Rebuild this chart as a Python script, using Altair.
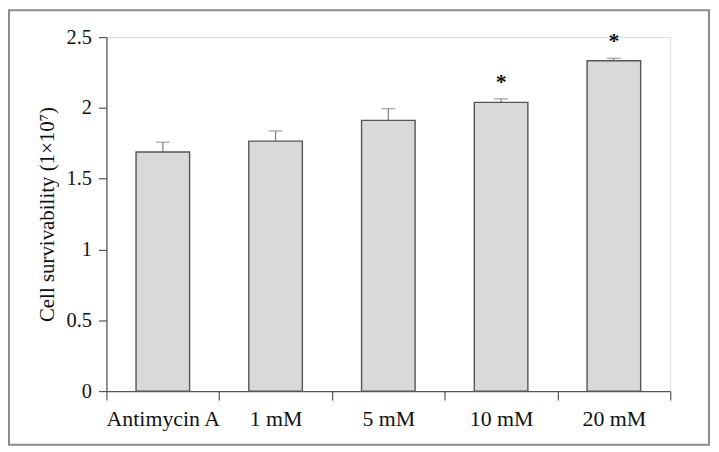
import altair as alt
import pandas as pd

categories = ["Antimycin A", "1 mM", "5 mM", "10 mM", "20 mM"]
means = [1.688, 1.765, 1.912, 2.039, 2.333]
uppers = [1.758, 1.837, 1.994, 2.064, 2.350]
stars = ["", "", "", "*", "*"]
y_ticks = [0, 0.5, 1, 1.5, 2, 2.5]

df = pd.DataFrame({"cat": categories, "mean": means, "upper": uppers, "star": stars})

FONT = "Liberation Serif"
W, H = 567, 356

xenc = alt.X(
    "cat:N",
    sort=categories,
    scale=alt.Scale(paddingInner=0, paddingOuter=0),
    axis=alt.Axis(
        title=None, labelAngle=0, tickBand="extent", tickSize=9,
        labelPadding=9, labelFontSize=22, labelFont=FONT, labelColor="#111",
        domainColor="#555", tickColor="#555", domainWidth=1.2, tickWidth=1.2,
    ),
)
yscale = alt.Scale(domain=[0, 2.5], nice=False)

base = alt.Chart(df)

err_rule = base.mark_rule(color="#8a8a8a", strokeWidth=1.3).encode(
    x=xenc, y=alt.Y("mean:Q", scale=yscale), y2="upper:Q"
)
err_cap = base.mark_tick(color="#8a8a8a", thickness=1.4, size=14).encode(
    x=xenc, y=alt.Y("upper:Q", scale=yscale)
)
bars = base.mark_bar(
    width=alt.RelativeBandSize(0.475), fill="#d9d9d9", stroke="#555555", strokeWidth=1.4
).encode(
    x=xenc,
    y=alt.Y(
        "mean:Q",
        scale=yscale,
        axis=alt.Axis(
            title="Cell survivability (1×10⁷)", values=y_ticks, format="~g",
            grid=False, tickSize=8, labelPadding=7, labelFontSize=20.5, labelFont=FONT,
            labelColor="#111", titleFont=FONT, titleFontSize=21, titleFontWeight="normal",
            titleColor="#111", titlePadding=9, domainColor="#555", tickColor="#555",
            domainWidth=1.2, tickWidth=1.2,
        ),
    ),
)
star_text = base.mark_text(
    font=FONT, fontSize=22, fontWeight="bold", color="#111", baseline="alphabetic", dy=-10
).encode(x=xenc, y=alt.Y("upper:Q", scale=yscale), text="star:N")

frame = alt.Chart(pd.DataFrame({"f": [0]})).mark_rect(
    fillOpacity=0, stroke="#8c8c8c", strokeWidth=2
).encode(
    x=alt.value(-98), x2=alt.value(606), y=alt.value(-27), y2=alt.value(410)
)

chart = alt.layer(err_rule, err_cap, bars, star_text, frame).properties(
    width=W, height=H,
    autosize=alt.AutoSizeParams(type="none"),
    padding={"left": 99, "top": 28, "right": 41, "bottom": 56},
).configure_view(stroke=None).configure(background="white")

chart.save("out.html", embed_options={"renderer": "svg", "actions": False})
